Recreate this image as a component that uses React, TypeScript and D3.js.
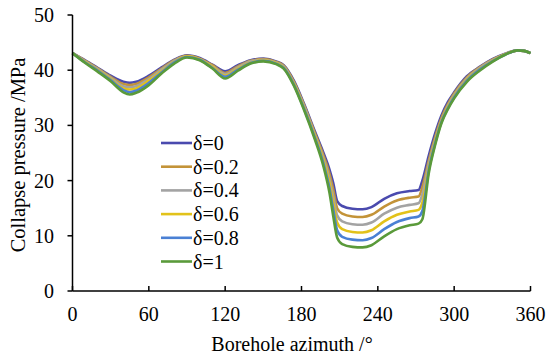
import React from "react";
import * as d3 from "d3";

const azimuths = [0, 10, 20, 30, 40, 45, 50, 60, 70, 80, 90, 100, 110, 120, 130, 140, 150, 160, 166, 174, 182, 190, 197, 202, 205, 208, 212, 220, 228, 235, 245, 255, 265, 272, 275, 280, 285, 290, 295, 300, 310, 320, 330, 340, 350, 355, 360];

const d0 = [43.1, 41.8, 40.4, 39.0, 37.9, 37.7, 37.9, 39.0, 40.5, 41.9, 42.7, 42.2, 41.0, 39.8, 40.9, 41.8, 42.1, 41.6, 40.9, 38.1, 33.9, 29.2, 25.2, 22.0, 19.5, 16.3, 15.4, 14.9, 14.8, 15.2, 16.7, 17.7, 18.1, 18.3, 20.0, 24.5, 28.5, 31.8, 34.2, 36.0, 38.9, 40.6, 42.0, 43.0, 43.6, 43.5, 43.1];
const d02 = [43.1, 41.7, 40.3, 38.8, 37.5, 37.3, 37.5, 38.7, 40.3, 41.8, 42.6, 42.1, 40.9, 39.5, 40.7, 41.7, 42.0, 41.5, 40.8, 37.9, 33.7, 28.9, 24.7, 21.2, 18.3, 15.0, 14.0, 13.5, 13.4, 13.8, 15.3, 16.4, 16.9, 17.1, 18.8, 23.6, 27.8, 31.3, 33.8, 35.8, 38.7, 40.5, 41.9, 42.9, 43.6, 43.5, 43.1];
const d04 = [43.1, 41.6, 40.2, 38.6, 37.1, 36.9, 37.1, 38.4, 40.1, 41.7, 42.5, 42.0, 40.7, 39.3, 40.5, 41.6, 41.9, 41.4, 40.7, 37.7, 33.5, 28.6, 24.2, 20.3, 17.1, 13.7, 12.6, 12.1, 12.0, 12.4, 14.0, 15.1, 15.6, 15.9, 17.5, 23.0, 27.3, 30.9, 33.5, 35.5, 38.5, 40.4, 41.8, 42.9, 43.6, 43.5, 43.1];
const d06 = [43.1, 41.5, 40.0, 38.4, 36.7, 36.5, 36.7, 38.1, 39.8, 41.5, 42.5, 42.0, 40.6, 39.0, 40.3, 41.4, 41.8, 41.3, 40.5, 37.6, 33.2, 28.4, 23.8, 19.5, 15.9, 12.4, 11.2, 10.7, 10.6, 11.0, 12.6, 13.8, 14.4, 14.7, 16.0, 22.3, 27.0, 30.7, 33.3, 35.3, 38.3, 40.2, 41.7, 42.9, 43.6, 43.5, 43.1];
const d08 = [43.1, 41.4, 39.9, 38.2, 36.4, 36.0, 36.3, 37.7, 39.6, 41.4, 42.4, 41.9, 40.4, 38.8, 40.1, 41.3, 41.7, 41.2, 40.4, 37.4, 33.0, 28.1, 23.3, 18.6, 14.7, 11.0, 9.8, 9.3, 9.2, 9.6, 11.2, 12.5, 13.2, 13.5, 14.5, 21.8, 26.7, 30.6, 33.1, 35.1, 38.1, 40.1, 41.6, 42.8, 43.6, 43.5, 43.1];
const d1 = [43.1, 41.3, 39.7, 38.0, 36.0, 35.6, 35.9, 37.3, 39.4, 41.2, 42.3, 41.8, 40.3, 38.5, 39.9, 41.2, 41.6, 41.1, 40.3, 37.2, 32.8, 27.8, 22.8, 17.8, 13.5, 9.7, 8.5, 8.0, 7.9, 8.3, 9.9, 11.2, 11.9, 12.2, 13.0, 21.3, 26.4, 30.4, 32.9, 34.9, 37.9, 39.9, 41.5, 42.8, 43.6, 43.5, 43.1];

const seriesLabels = ["δ=0", "δ=0.2", "δ=0.4", "δ=0.6", "δ=0.8", "δ=1"];
const seriesValues = [d0, d02, d04, d06, d08, d1];
const seriesColors = ["#4a4aae", "#c39338", "#a3a3a3", "#e2c21a", "#4a80d4", "#5a9a3a"];

const xTicks = [0, 60, 120, 180, 240, 300, 360];
const yTicks = [0, 10, 20, 30, 40, 50];

const W = 550;
const H = 359;
const FONT = "'Liberation Serif', 'Times New Roman', serif";

export default function App() {
  const x = d3.scaleLinear().domain([0, 360]).range([72.5, 530.5]);
  const y = d3.scaleLinear().domain([0, 50]).range([291, 15]);
  const line = d3
    .line<[number, number]>()
    .x((d) => x(d[0]))
    .y((d) => y(d[1]))
    .curve(d3.curveMonotoneX);

  return (
    <svg
      width={W}
      height={H}
      style={{ position: "absolute", left: 0, top: 0, background: "#fff" }}
      fontFamily={FONT}
    >
      <rect x={0} y={0} width={W} height={H} fill="#fff" />
      {seriesValues.map((vals, i) => (
        <path
          key={i}
          d={line(azimuths.map((a, j) => [a, vals[j]] as [number, number])) || ""}
          fill="none"
          stroke={seriesColors[i]}
          strokeWidth={2.6}
          strokeLinejoin="round"
        />
      ))}
      <line x1={x(0)} x2={x(0)} y1={y(50)} y2={y(0)} stroke="#000" strokeWidth={1.5} />
      <line x1={x(0)} x2={x(360)} y1={y(0)} y2={y(0)} stroke="#000" strokeWidth={1.5} />
      {yTicks.map((t) => (
        <g key={"y" + t}>
          <line x1={x(0) - 5} x2={x(0)} y1={y(t)} y2={y(t)} stroke="#000" strokeWidth={1.5} />
          <text x={54} y={y(t)} dy="0.35em" textAnchor="end" fontSize={20} fill="#000">
            {t}
          </text>
        </g>
      ))}
      {xTicks.map((t) => (
        <g key={"x" + t}>
          <line x1={x(t)} x2={x(t)} y1={y(0)} y2={y(0) - 5} stroke="#000" strokeWidth={1.5} />
          <text x={x(t)} y={321} textAnchor="middle" fontSize={20} fill="#000">
            {t}
          </text>
        </g>
      ))}
      <text x={292} y={351} textAnchor="middle" fontSize={20} fill="#000">
        Borehole azimuth /°
      </text>
      <text
        transform={`translate(25,155) rotate(-90)`}
        textAnchor="middle"
        fontSize={20.5}
        fill="#000"
      >
        Collapse pressure /MPa
      </text>
      {seriesLabels.map((lab, i) => {
        const cy = 143 + i * 23.7;
        return (
          <g key={lab}>
            <line x1={161} x2={192} y1={cy} y2={cy} stroke={seriesColors[i]} strokeWidth={2.6} />
            <text x={193} y={cy} dy="0.35em" fontSize={20} fill="#000">
              {lab}
            </text>
          </g>
        );
      })}
    </svg>
  );
}
